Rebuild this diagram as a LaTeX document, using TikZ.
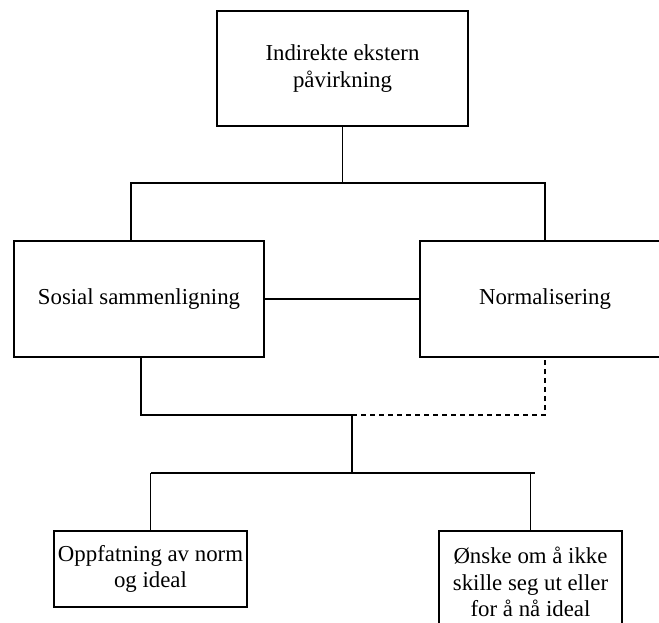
\documentclass[tikz,border=0pt]{standalone}
\usepackage{fontspec}
\setmainfont{Liberation Serif}
\begin{document}
\begin{tikzpicture}[x=1bp,y=1bp,
  box/.style={draw, line width=1.4bp, inner sep=0pt, align=center,
    font=\fontsize{22.9}{26.6}\selectfont},
  conn/.style={line width=1.4bp},
  dconn/.style={line width=1.4bp, dash pattern=on 5bp off 4bp}]
\useasboundingbox (0,0) rectangle (659,-623);
\clip (0,0) rectangle (659,-623);
\node[box, minimum width=251bp, minimum height=115bp] (top) at (342.5,-68.5) {Indirekte ekstern\\påvirkning};
\node[box, minimum width=250bp, minimum height=116bp] (soc) at (139,-299) {Sosial sammenligning};
\node[box, minimum width=250bp, minimum height=116bp] (norm) at (545,-299) {Normalisering};
\node[box, minimum width=193bp, minimum height=76bp] (opp) at (150.5,-569) {Oppfatning av norm\\og ideal};
\node[box, minimum width=183bp, minimum height=102bp] (onske) at (530.5,-582) {Ønske om å ikke\\skille seg ut eller\\for å nå ideal};
\coordinate (j1) at (342.5,-183);
\coordinate (a1) at (131,-183);
\coordinate (b1) at (141,-415);
\coordinate (j2) at (352,-415);
\coordinate (j3) at (352,-473);
\coordinate (c1) at (150.5,-473);
\coordinate (c2) at (535,-473);
\draw[conn] (top.south) -- (j1);
\draw[conn] (a1 |- soc.north) -- (a1) -- (j1 -| norm.north) -- (norm.north);
\draw[conn] (soc.east) -- (norm.west);
\draw[conn] (b1 |- soc.south) -- (b1) -- (j2);
\draw[dconn] (j2) -- (j2 -| norm.south) -- (norm.south);
\draw[conn] (j2) -- (j3);
\draw[conn] (c1) -- (c2);
\draw[conn] (c1) -- (opp.north);
\draw[conn] (c2 -| onske.north) -- (onske.north);
\end{tikzpicture}
\end{document}
